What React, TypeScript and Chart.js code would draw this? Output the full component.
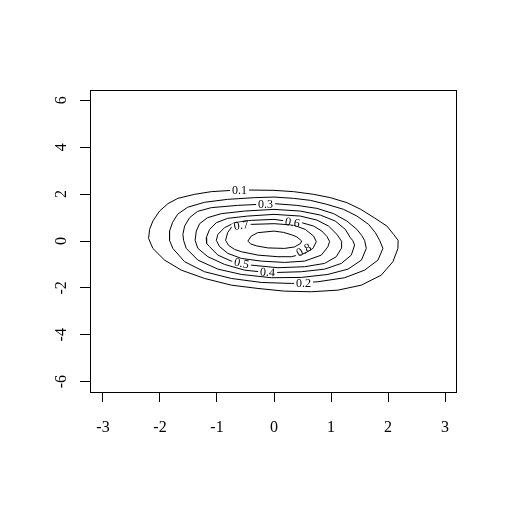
import React, { useEffect, useRef } from "react";
import { Chart, registerables } from "chart.js";

Chart.register(...registerables);

// Axis ticks and ranges
const xTicks = [-3, -2, -1, 0, 1, 2, 3];
const yTicks = [-6, -4, -2, 0, 2, 4, 6];
const xRange = [-3.21, 3.21];
const yRange = [-6.44, 6.44];

// Contour levels
const levels = [0.1, 0.2, 0.3, 0.4, 0.5, 0.6, 0.7, 0.8];

// Contour lines (data units: [x, y])
const level01 = [
  [0.0, 2.16], [-0.6, 2.18], [-1.1, 2.105], [-1.393, 1.99], [-1.686, 1.819], [-1.861, 1.593],
  [-2.007, 1.277], [-2.125, 0.85], [-2.182, 0.495], [-2.2, 0.111], [-2.125, -0.316], [-1.919, -0.816],
  [-1.626, -1.243], [-1.218, -1.597], [-0.749, -1.883], [-0.282, -2.024], [0.186, -2.139], [0.654, -2.165],
  [1.121, -2.096], [1.532, -1.883], [1.882, -1.456], [2.086, -0.884], [2.174, -0.316], [2.177, 0.026],
  [2.098, 0.282], [1.981, 0.636], [1.756, 0.995], [1.523, 1.349], [1.279, 1.635], [0.988, 1.849],
  [0.695, 1.99], [0.344, 2.105],
];
const level02 = [
  [0.0, 1.874], [-0.34, 1.849], [-0.814, 1.776], [-1.218, 1.651], [-1.516, 1.439], [-1.691, 1.14],
  [-1.779, 0.794], [-1.832, 0.423], [-1.832, 0.026], [-1.774, -0.316], [-1.568, -0.884], [-1.218, -1.311],
  [-0.749, -1.597], [-0.223, -1.768], [0.304, -1.81], [0.77, -1.738], [1.239, -1.567], [1.589, -1.243],
  [1.823, -0.816], [1.911, -0.316], [1.853, 0.026], [1.778, 0.354], [1.66, 0.709], [1.455, 1.063],
  [1.221, 1.349], [0.928, 1.563], [0.637, 1.734], [0.344, 1.819],
];
const level03 = [
  [0.0, 1.593], [-0.253, 1.563], [-0.639, 1.52], [-1.1, 1.422], [-1.34, 1.264], [-1.481, 0.995],
  [-1.568, 0.636], [-1.598, 0.282], [-1.586, 0.026], [-1.539, -0.316], [-1.335, -0.816], [-0.984, -1.2],
  [-0.574, -1.426], [-0.047, -1.567], [0.479, -1.554], [0.946, -1.426], [1.298, -1.2], [1.533, -0.816],
  [1.619, -0.316], [1.589, 0.026], [1.537, 0.239], [1.454, 0.495], [1.279, 0.85], [1.046, 1.166],
  [0.753, 1.392], [0.402, 1.52],
];
const level04 = [
  [0.0, 1.349], [-0.516, 1.277], [-0.925, 1.166], [-1.165, 0.995], [-1.305, 0.739], [-1.363, 0.423],
  [-1.384, 0.026], [-1.335, -0.316], [-1.16, -0.67], [-0.867, -0.999], [-0.516, -1.243], [-0.218, -1.32],
  [0.068, -1.341], [0.479, -1.311], [0.888, -1.2], [1.181, -0.956], [1.356, -0.602], [1.414, -0.175],
  [1.379, 0.026], [1.339, 0.141], [1.251, 0.495], [1.075, 0.85], [0.812, 1.106], [0.461, 1.277],
];
const level05 = [
  [0.0, 1.136], [-0.463, 1.063], [-0.814, 0.965], [-1.012, 0.781], [-1.13, 0.495], [-1.188, 0.141],
  [-1.182, -0.102], [-1.13, -0.243], [-0.984, -0.602], [-0.749, -0.858], [-0.568, -0.935], [-0.398, -1.029],
  [0.068, -1.14], [0.537, -1.097], [0.888, -0.956], [1.093, -0.67], [1.181, -0.316], [1.186, -0.017],
  [1.104, 0.282], [0.958, 0.636], [0.753, 0.892], [0.461, 1.063],
];
const level06 = [
  [0.0, 0.922], [-0.398, 0.88], [-0.691, 0.781], [-0.867, 0.568], [-0.984, 0.282], [-1.012, 0.026],
  [-0.954, -0.243], [-0.809, -0.529], [-0.574, -0.743], [-0.223, -0.858], [0.186, -0.914], [0.537, -0.858],
  [0.83, -0.602], [0.946, -0.243], [0.975, -0.017], [0.928, 0.196], [0.84, 0.423], [0.695, 0.636],
  [0.489, 0.781], [0.326, 0.816],
];
const level07 = [
  [0.0, 0.739], [-0.398, 0.709], [-0.604, 0.687], [-0.744, 0.594], [-0.814, 0.354], [-0.849, 0.026],
  [-0.796, -0.188], [-0.691, -0.358], [-0.574, -0.457], [-0.282, -0.602], [0.068, -0.67], [0.304, -0.67],
  [0.537, -0.529], [0.682, -0.316], [0.742, -0.03], [0.695, 0.209], [0.549, 0.495], [0.344, 0.679],
];
const level08 = [
  [0.0, 0.423], [-0.288, 0.354], [-0.398, 0.209], [-0.458, -0.004], [-0.411, -0.124], [-0.305, -0.209],
  [-0.107, -0.295], [0.186, -0.316], [0.361, -0.252], [0.467, -0.102], [0.484, 0.004], [0.402, 0.175],
  [0.314, 0.26], [0.168, 0.367],
];
const contourLines = [level01, level02, level03, level04, level05, level06, level07, level08];

// Label anchors on each contour (data units) and the line direction there (degrees)
const labelX = [-0.604, 0.519, -0.147, -0.112, -0.568, 0.326, -0.577, 0.519];
const labelY = [2.161, -1.81, 1.563, -1.319, -0.935, 0.803, 0.687, -0.38];
const labelAngle = [0, 0, 0, 4, 12, 10, -8, -30];

const AXIS_FONT = '16px "Liberation Serif", "Times New Roman", serif';
const LABEL_FONT = '12px "Liberation Serif", "Times New Roman", serif';

const rStylePlugin = {
  id: "rStyle",
  afterDatasetsDraw(chart: any) {
    const { ctx, chartArea, scales } = chart;
    const xs = scales.x;
    const ys = scales.y;
    ctx.save();
    // contour labels with a gap in the line
    ctx.font = LABEL_FONT;
    levels.forEach((lv, i) => {
      const px = xs.getPixelForValue(labelX[i]);
      const py = ys.getPixelForValue(labelY[i]);
      const txt = String(lv);
      const w = ctx.measureText(txt).width;
      ctx.save();
      ctx.translate(px, py);
      ctx.rotate((labelAngle[i] * Math.PI) / 180);
      ctx.fillStyle = "#fff";
      ctx.fillRect(-w / 2 - 2, -2.5, w + 4, 5);
      ctx.fillStyle = "#000";
      ctx.textAlign = "center";
      ctx.textBaseline = "alphabetic";
      ctx.fillText(txt, 0, 4);
      ctx.restore();
    });
    // plot box
    ctx.strokeStyle = "#000";
    ctx.lineWidth = 1;
    const l = Math.round(chartArea.left) - 0.5;
    const t = Math.round(chartArea.top) + 0.5;
    const r = Math.round(chartArea.right) - 0.5;
    const b = Math.round(chartArea.bottom) + 0.5;
    ctx.strokeRect(l, t, r - l, b - t);
    // tick labels
    ctx.fillStyle = "#000";
    ctx.font = AXIS_FONT;
    ctx.textAlign = "center";
    ctx.textBaseline = "alphabetic";
    xs.ticks.forEach((tk: any) => {
      const px = xs.getPixelForValue(tk.value);
      ctx.fillText(String(tk.value), px, chartArea.bottom + 39.5);
    });
    ys.ticks.forEach((tk: any) => {
      const py = ys.getPixelForValue(tk.value);
      ctx.save();
      ctx.translate(chartArea.left - 25, py);
      ctx.rotate(-Math.PI / 2);
      ctx.fillText(String(tk.value), 0, 0);
      ctx.restore();
    });
    ctx.restore();
  },
};

export default function App() {
  const ref = useRef<HTMLCanvasElement | null>(null);

  useEffect(() => {
    if (!ref.current) return;
    const datasets = contourLines.map((line, i) => {
      const pts = line.map(([x, y]) => ({ x, y }));
      pts.push({ x: line[0][0], y: line[0][1] });
      return {
        label: String(levels[i]),
        data: pts,
        showLine: true,
        borderColor: "#000",
        borderWidth: 1,
        pointRadius: 0,
        tension: 0,
        fill: false,
      };
    });
    const chart = new Chart(ref.current, {
      type: "scatter",
      data: { datasets },
      options: {
        animation: false,
        responsive: false,
        devicePixelRatio: 1,
        events: [],
        layout: { padding: { left: 0, top: 90, right: 48, bottom: 0 } },
        plugins: { legend: { display: false }, tooltip: { enabled: false } },
        scales: {
          x: {
            type: "linear",
            min: xRange[0],
            max: xRange[1],
            afterBuildTicks: (s: any) => {
              s.ticks = xTicks.map((v) => ({ value: v }));
            },
            afterFit: (s: any) => {
              s.height = 114;
            },
            ticks: { display: false },
            grid: { drawOnChartArea: false, drawTicks: true, tickLength: 10, color: "#000", lineWidth: 1 },
            border: { display: false },
          },
          y: {
            type: "linear",
            min: yRange[0],
            max: yRange[1],
            afterBuildTicks: (s: any) => {
              s.ticks = yTicks.map((v) => ({ value: v }));
            },
            afterFit: (s: any) => {
              s.width = 91;
            },
            ticks: { display: false },
            grid: { drawOnChartArea: false, drawTicks: true, tickLength: 11, color: "#000", lineWidth: 1 },
            border: { display: false },
          },
        },
      },
      plugins: [rStylePlugin],
    });
    return () => chart.destroy();
  }, []);

  return (
    <div style={{ position: "absolute", left: 0, top: 0, width: 505, height: 506, background: "#fff" }}>
      <canvas ref={ref} width={505} height={506} />
    </div>
  );
}
